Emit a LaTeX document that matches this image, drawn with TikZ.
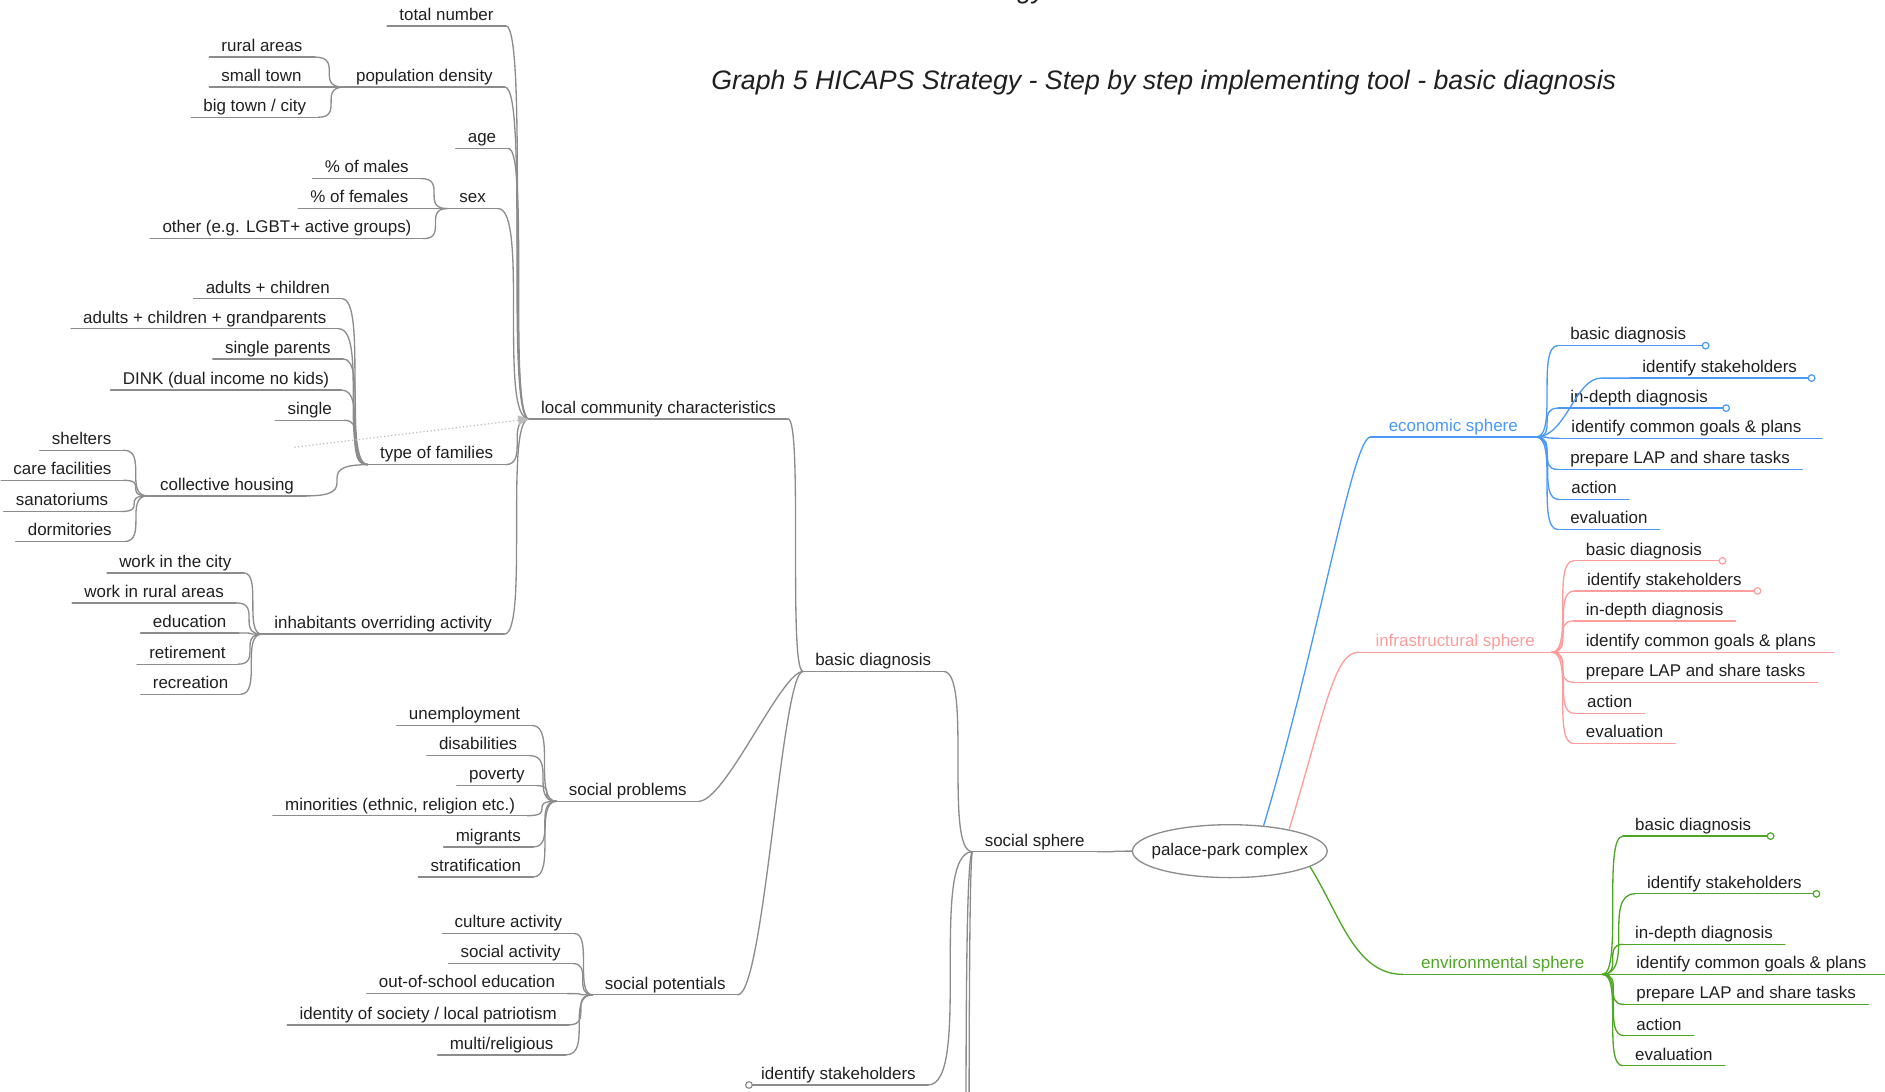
\documentclass[tikz,border=0pt]{standalone}
\usepackage{fontspec}
\setmainfont{Liberation Sans}
\usetikzlibrary{shapes.geometric,arrows.meta}

\definecolor{ink}{HTML}{1F1F1F}
\definecolor{wire}{HTML}{8C8C8C}
\definecolor{ecoblue}{HTML}{4A98F7}
\definecolor{infrapink}{HTML}{FF9C9C}
\definecolor{envgreen}{HTML}{4DA624}
\definecolor{dotgray}{HTML}{BBBBBB}

% S-shaped branch between two points, horizontal at both ends
\newcommand\mmlink[3][wire]{\draw[link,#1] (#2) .. controls (#2 -| #3) and (#3 -| #2) .. (#3);}
% softer branch with short handles, for long diagonal runs
\newcommand\mmsoft[3][wire]{\draw[link,#1] (#2) .. controls +(22,0) and +(-18,0) .. (#3);}

\tikzset{
  link/.style={line width=1.1pt, line cap=round},
  leaf/.style={font=\fontsize{14.1}{17}\selectfont, text=ink, inner xsep=10pt, inner ysep=0pt,
    text height=10.5pt, text depth=4.5pt, anchor=south west,
    append after command={(\tikzlastnode.south west) edge[link, draw=#1] (\tikzlastnode.south east)}},
  leaf/.default=wire,
  ring/.style={circle, draw=#1, fill=white, line width=1pt, inner sep=0pt, minimum size=5.5pt},
  heading/.style={font=\fontsize{22.2}{26}\selectfont\itshape, text=ink, inner sep=0pt},
}

\begin{document}
\begin{tikzpicture}[x=1pt, y=-1pt]
\useasboundingbox (0,0) rectangle (1568,908);
\clip (0,0) rectangle (1568,908);

% captions
\node[heading, anchor=base east] (frag) at (870,-1) {Strategy};
\node[heading] (caption) at (968,68.5) {Graph 5 HICAPS Strategy - Step by step implementing tool - basic diagnosis};

% central topic
\node[draw=wire, line width=1.1pt, ellipse, minimum width=162pt, minimum height=44pt] (root) at (1023,708) {};
\node[font=\fontsize{14.1}{17}\selectfont, text=ink] (rootlabel) at (root) {palace-park complex};

% ---------------- social sphere (grows to the left) ----------------
\node[leaf] (soc) at (809,708.5) {social sphere};
\node[leaf] (bd)  at (668,558.5) {basic diagnosis};
\node[leaf] (isk) at (623,902.5) {identify stakeholders};
\node[ring=wire] (iskring) at (isk.south west) {};
\coordinate (off1) at (798,1300);
\coordinate (off2) at (803,1500);

\node[leaf] (lcc) at (440,348.5) {local community characteristics};
\node[leaf] (sp)  at (463,666.5) {social problems};
\node[leaf] (spo) at (493,827.5) {social potentials};

% local community characteristics
\node[leaf] (tn)  at (322,21.5)  {total number};
\node[leaf] (pd)  at (286,72.5)  {population density};
\node[leaf] (age) at (379,123.5) {age};
\node[leaf] (sex) at (372,173.5) {sex};
\node[leaf] (tf)  at (306,386.5) {type of families};
\node[leaf] (ioa) at (218,527.5) {inhabitants overriding activity};

\node[leaf] (ra) at (174,47.5) {rural areas};
\node[leaf] (st) at (174,72.5) {small town};
\node[leaf] (bt) at (159,97.5) {big town / city};

\node[leaf] (pm)  at (260,148.5) {\% of males};
\node[leaf] (pf)  at (248,173.5) {\% of females};
\node[leaf] (oth) at (125,198.5) {other (e.g. LGBT+ active groups)};

\node[leaf] (ac)   at (161,248.5) {adults + children};
\node[leaf] (acg)  at (59,273.5)  {adults + children + grandparents};
\node[leaf] (spar) at (177,298.5) {single parents};
\node[leaf] (dink) at (92,324.5)  {DINK (dual income no kids)};
\node[leaf] (sgl)  at (229,349.5) {single};
\node[leaf] (ch)   at (123,412.5) {collective housing};

\node[leaf] (shel) at (33,374.5) {shelters};
\node[leaf] (care) at (1,399.5)  {care facilities};
\node[leaf] (san)  at (3,425.5)  {sanatoriums};
\node[leaf] (dorm) at (13,450.5) {dormitories};

\node[leaf] (wic) at (89,476.5)  {work in the city};
\node[leaf] (wra) at (60,501.5)  {work in rural areas};
\node[leaf] (edu) at (117,526.5) {education};
\node[leaf] (ret) at (114,552.5) {retirement};
\node[leaf] (rec) at (117,577.5) {recreation};

% social problems
\node[leaf] (une) at (330,603.5) {unemployment};
\node[leaf] (dis) at (355,628.5) {disabilities};
\node[leaf] (pov) at (380,653.5) {poverty};
\node[leaf] (min) at (227,678.5) {minorities (ethnic, religion etc.)};
\node[leaf] (mig) at (369,704.5) {migrants};
\node[leaf] (str) at (348,729.5) {stratification};

% social potentials
\node[leaf] (cul) at (368,776.5) {culture activity};
\node[leaf] (soa) at (373,801.5) {social activity};
\node[leaf] (ose) at (305,826.5) {out-of-school education};
\node[leaf] (ids) at (239,852.5) {identity of society / local patriotism};
\node[leaf] (mul) at (364,877.5) {multi/religious};

% connectors of the social sphere
\mmlink{soc.south east}{root.west}
\mmlink{bd.south east}{soc.south west}
\mmlink{isk.south east}{soc.south west}
\mmlink{off1}{soc.south west}
\mmlink{off2}{soc.south west}
\mmlink{lcc.south east}{bd.south west}
\mmsoft{sp.south east}{bd.south west}
\mmsoft{spo.south east}{bd.south west}

\foreach \c in {tn,pd,age,sex,tf,ioa} {\mmlink{\c.south east}{lcc.south west}}
\foreach \c in {ra,st,bt} {\mmlink{\c.south east}{pd.south west}}
\foreach \c in {pm,pf,oth} {\mmlink{\c.south east}{sex.south west}}
\foreach \c in {ac,acg,spar,dink,sgl,ch} {\mmlink{\c.south east}{tf.south west}}
\foreach \c in {shel,care,san,dorm} {\mmlink{\c.south east}{ch.south west}}
\foreach \c in {wic,wra,edu,ret,rec} {\mmlink{\c.south east}{ioa.south west}}
\foreach \c in {une,dis,pov,min,mig,str} {\mmlink{\c.south east}{sp.south west}}
\foreach \c in {cul,soa,ose,ids,mul} {\mmlink{\c.south east}{spo.south west}}

% dotted relation ending at local community characteristics
\coordinate (dotstart) at (245,372);
\draw[dotted, line width=1pt, draw=dotgray, -{Triangle[length=9pt,width=8pt,fill=dotgray]}] (dotstart) -- (lcc.south west);

% ---------------- economic sphere ----------------
\node[leaf=ecoblue, text=ecoblue, inner xsep=15pt] (eco) at (1140,363.5) {economic sphere};
\node[leaf=ecoblue] (e1) at (1296,287.5) {basic diagnosis};
\node[leaf=ecoblue] (e2) at (1356,314.5) {identify stakeholders};
\node[leaf=ecoblue] (e3) at (1296,339.5) {in-depth diagnosis};
\node[leaf=ecoblue] (e4) at (1297,364.5) {identify common goals \& plans};
\node[leaf=ecoblue] (e5) at (1296,390.5) {prepare LAP and share tasks};
\node[leaf=ecoblue] (e6) at (1297,415.5) {action};
\node[leaf=ecoblue] (e7) at (1296,440.5) {evaluation};
\coordinate (e2start) at ([xshift=-24pt]e2.south west);
\draw[link, ecoblue] (root.37) .. controls +(45,-150) and +(-15,0) .. (eco.south west);
\foreach \c in {e1,e3,e4,e5,e6,e7} {\mmlink[ecoblue]{eco.south east}{\c.south west}}
\draw[link, ecoblue] (eco.south east) .. controls +(25,0) and +(-22,0) .. (e2start) -- (e2.south west);
\draw[link, ecoblue] (e1.south east) -- ++(6,0) node[ring=ecoblue] (e1ring) {};
\draw[link, ecoblue] (e2.south east) -- ++(2,0) node[ring=ecoblue] (e2ring) {};
\draw[link, ecoblue] (e3.south east) -- ++(5,0) node[ring=ecoblue] (e3ring) {};
\draw[link, ecoblue] (e4.south east) -- ++(7,0);

% ---------------- infrastructural sphere ----------------
\node[leaf=infrapink, text=infrapink, inner xsep=14pt] (infra) at (1130,542.5) {infrastructural sphere};
\node[leaf=infrapink] (i1) at (1309,466.5) {basic diagnosis};
\node[leaf=infrapink] (i2) at (1310,491.5) {identify stakeholders};
\node[leaf=infrapink] (i3) at (1309,516.5) {in-depth diagnosis};
\node[leaf=infrapink] (i4) at (1309,542.5) {identify common goals \& plans};
\node[leaf=infrapink] (i5) at (1309,567.5) {prepare LAP and share tasks};
\node[leaf=infrapink] (i6) at (1310,593.5) {action};
\node[leaf=infrapink] (i7) at (1309,618.5) {evaluation};
\draw[link, infrapink] (root.20) .. controls +(30,-100) and +(-20,0) .. (infra.south west);
\foreach \c in {i1,i2,i3,i4,i5,i6,i7} {\mmlink[infrapink]{infra.south east}{\c.south west}}
\draw[link, infrapink] (i1.south east) -- ++(7,0) node[ring=infrapink] (i1ring) {};
\draw[link, infrapink] (i2.south east) -- ++(3,0) node[ring=infrapink] (i2ring) {};
\draw[link, infrapink] (i4.south east) -- ++(5,0);

% ---------------- environmental sphere ----------------
\node[leaf=envgreen, text=envgreen, inner xsep=15pt] (env) at (1167,810.5) {environmental sphere};
\node[leaf=envgreen] (n1) at (1350,695.5) {basic diagnosis};
\node[leaf=envgreen] (n2) at (1360,743.5) {identify stakeholders};
\node[leaf=envgreen] (n3) at (1350,785.5) {in-depth diagnosis};
\node[leaf=envgreen] (n4) at (1351,810.5) {identify common goals \& plans};
\node[leaf=envgreen] (n5) at (1351,835.5) {prepare LAP and share tasks};
\node[leaf=envgreen] (n6) at (1351,861.5) {action};
\node[leaf=envgreen] (n7) at (1350,886.5) {evaluation};
\draw[link, envgreen] (root.-11) .. controls +(25,40) and +(-40,0) .. (env.south west);
\foreach \c in {n1,n2,n3,n4,n5,n6,n7} {\mmlink[envgreen]{env.south east}{\c.south west}}
\draw[link, envgreen] (n1.south east) -- ++(6,0) node[ring=envgreen] (n1ring) {};
\draw[link, envgreen] (n2.south east) -- ++(2,0) node[ring=envgreen] (n2ring) {};
\draw[link, envgreen] (n4.south east) -- ++(25,0);
\end{tikzpicture}
\end{document}
